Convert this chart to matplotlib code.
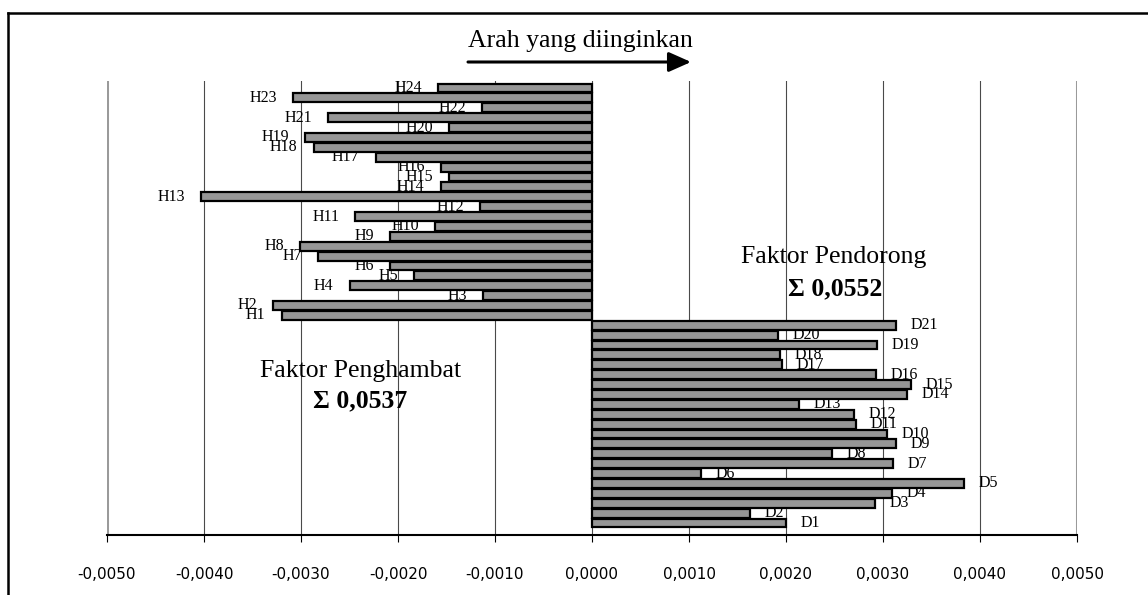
import matplotlib
matplotlib.use("Agg")
import matplotlib.pyplot as plt
from matplotlib.lines import Line2D
from matplotlib.ticker import FuncFormatter
import numpy as np

# ---- data ----
h_labels = [f"H{i}" for i in range(1, 25)]
h_values = [-0.00320, -0.00329, -0.00112, -0.00250, -0.00183, -0.00208, -0.00282,
            -0.00301, -0.00208, -0.00162, -0.00244, -0.00115, -0.00403, -0.00156,
            -0.00147, -0.00156, -0.00223, -0.00287, -0.00296, -0.00147, -0.00272,
            -0.00113, -0.00308, -0.00159]
d_labels = [f"D{i}" for i in range(1, 22)]
d_values = [0.00200, 0.00163, 0.00292, 0.00309, 0.00384, 0.00112, 0.00310,
            0.00247, 0.00313, 0.00304, 0.00272, 0.00270, 0.00213, 0.00325,
            0.00329, 0.00293, 0.00196, 0.00194, 0.00294, 0.00192, 0.00313]
x_ticks = [-0.005, -0.004, -0.003, -0.002, -0.001, 0.0, 0.001, 0.002, 0.003, 0.004, 0.005]
title_text = "Arah yang diinginkan"
push_title = "Faktor Pendorong"
push_sum = "Σ 0,0552"
hold_title = "Faktor Penghambat"
hold_sum = "Σ 0,0537"

W, H = 1148, 595
fig = plt.figure(figsize=(W / 100, H / 100), dpi=100)
fig.patch.set_facecolor("white")

def fx(x):
    return x / W

def fy(y):
    return 1 - y / H

ax_left, ax_right, ax_top, ax_bot = 107, 1077, 81, 535
ax = fig.add_axes([fx(ax_left), fy(ax_bot), (ax_right - ax_left) / W, (ax_bot - ax_top) / H])

labels = d_labels + h_labels
values = d_values + h_values
ypos = np.arange(len(values))

ax.barh(ypos, values, height=0.9, color="#969696", edgecolor="black",
        linewidth=1.6, zorder=3)

serif = ["Liberation Serif", "DejaVu Serif"]
for yy, v, lab in zip(ypos, values, labels):
    if v < 0:
        ax.annotate(lab, xy=(v, yy), xytext=(-11.5, 0), textcoords="offset points",
                    ha="right", va="center", fontsize=11.5, family=serif, zorder=2)
    else:
        ax.annotate(lab, xy=(v, yy), xytext=(10.5, 0), textcoords="offset points",
                    ha="left", va="center", fontsize=11.5, family=serif, zorder=2)

# gridlines
for t in x_ticks:
    if abs(t) > 0.0049:
        ax.axvline(t, color="#9a9a9a", lw=2.2, zorder=0)
    else:
        ax.axvline(t, color="#4a4a4a", lw=0.8, zorder=0)

ax.set_xlim(-0.005, 0.005)
ax.set_ylim(-1.214, 44.708)
ax.set_xticks(x_ticks)
ax.xaxis.set_major_formatter(FuncFormatter(lambda v, p: f"{round(v, 4) + 0.0:.4f}".replace(".", ",")))
ax.set_yticks([])
for s in ["top", "left", "right"]:
    ax.spines[s].set_visible(False)
ax.spines["bottom"].set_linewidth(1.5)
ax.spines["bottom"].set_color("black")
ax.tick_params(axis="x", direction="out", length=5, width=0.8, pad=18,
               labelsize=11, colors="black")
for lbl in ax.get_xticklabels():
    lbl.set_family("DejaVu Sans")
ax.set_facecolor("white")

# annotations
fig.text(fx(834), fy(263), push_title, ha="center", va="baseline", fontsize=18.5, family=serif)
fig.text(fx(835), fy(295), push_sum, ha="center", va="baseline", fontsize=18.5,
         family=serif, fontweight="bold")
fig.text(fx(361), fy(377), hold_title, ha="center", va="baseline", fontsize=18.5, family=serif)
fig.text(fx(360), fy(407), hold_sum, ha="center", va="baseline", fontsize=18.5,
         family=serif, fontweight="bold")
fig.text(fx(468), fy(47), title_text, ha="left", va="baseline", fontsize=18.5, family=serif)
ax.annotate("", xy=(691, H - 62), xytext=(468, H - 62), xycoords="figure pixels",
            textcoords="figure pixels",
            arrowprops=dict(arrowstyle="-|>,head_length=0.9,head_width=0.4",
                            lw=2.2, color="black", shrinkA=0, shrinkB=0,
                            mutation_scale=15))

# outer frame (left and top edges)
fig.add_artist(Line2D([fx(8), fx(8)], [fy(13), 0], color="black", lw=1.8,
                      transform=fig.transFigure))
fig.add_artist(Line2D([fx(8), 1], [fy(13), fy(13)], color="black", lw=1.8,
                      transform=fig.transFigure))

fig.savefig("out.png", dpi=100, facecolor="white")
